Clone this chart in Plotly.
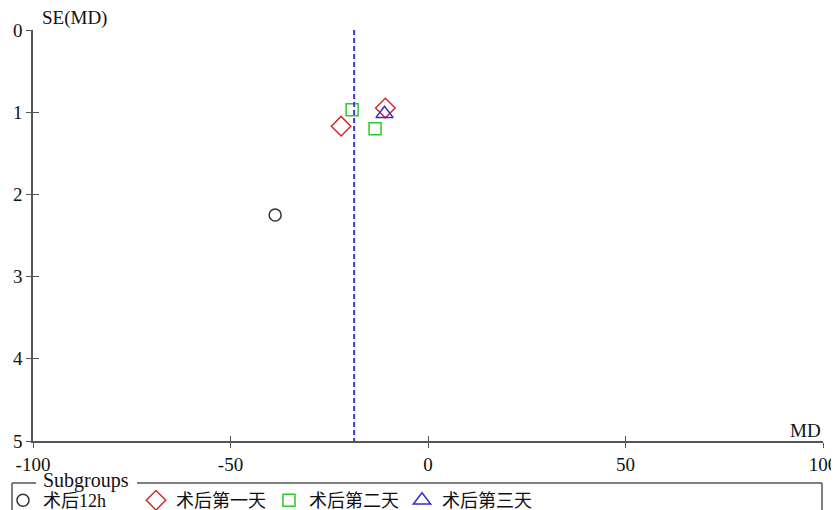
import plotly.graph_objects as go

# ---- data ----
groups = ["术后12h", "术后第一天", "术后第二天", "术后第三天"]
md_12h = [-38.7]
se_12h = [2.25]
md_d1 = [-22.0, -10.8]
se_d1 = [1.17, 0.95]
md_d2 = [-19.2, -13.4]
se_d2 = [0.97, 1.20]
md_d3 = [-11.0]
se_d3 = [1.02]
pooled_md = -18.7
x_ticks = [-100, -50, 0, 50, 100]
x_tick_labels = ["-100", "-50", "0", "50", "100"]
y_ticks = [0, 1, 2, 3, 4, 5]
y_tick_labels = ["0", "1", "2", "3", "4", "5"]

FONT = "Liberation Serif, Times New Roman, Noto Sans CJK SC, serif"
AX = "#555555"
TXT = "#111111"

series = [
    (groups[0], md_12h, se_12h, "circle-open", "#333333", 12),
    (groups[1], md_d1, se_d1, "diamond-open", "#d42a2a", 15),
    (groups[2], md_d2, se_d2, "square-open", "#2ec82e", 12),
    (groups[3], md_d3, se_d3, "triangle-up-open", "#3030c8", 15),
]

fig = go.Figure()
for name, xs, ys, sym, col, sz in series:
    fig.add_trace(go.Scatter(
        x=xs, y=ys, mode="markers", name=name,
        marker=dict(symbol=sym, size=sz, color=col, line=dict(color=col, width=1.5)),
        cliponaxis=False,
    ))

# invisible trace for an overlay axis pair carrying the inner half of the ticks
fig.add_trace(go.Scatter(x=[None], y=[None], xaxis="x2", yaxis="y2", showlegend=False, hoverinfo="skip"))

fig.add_shape(type="line", xref="x", yref="y", x0=pooled_md, x1=pooled_md, y0=0, y1=5,
              line=dict(color="#3a3ae0", width=2, dash="5px,3px"))

# plot area is 790 x 411 px; paper fractions below are relative to it
PW, PH = 790, 411


def px(x):
    return (x - 33) / PW


def py(y):
    return (441 - y) / PH


# legend frame (open at the top where the "Subgroups" caption sits)
frame = dict(type="line", xref="paper", yref="paper", line=dict(color=AX, width=1.5))
fig.add_shape(x0=px(12), x1=px(12), y0=py(483), y1=py(530), **frame)
fig.add_shape(x0=px(822), x1=px(822), y0=py(483), y1=py(530), **frame)
fig.add_shape(x0=px(12), x1=px(36), y0=py(483), y1=py(483), **frame)
fig.add_shape(x0=px(137), x1=px(822), y0=py(483), y1=py(483), **frame)
fig.add_annotation(text="Subgroups", xref="paper", yref="paper", x=px(41), y=py(480),
                   xanchor="left", yanchor="middle", showarrow=False,
                   font=dict(family=FONT, size=20, color=TXT))

fig.add_annotation(text="SE(MD)", xref="paper", yref="paper", x=px(40), y=py(18),
                   xanchor="left", yanchor="middle", showarrow=False,
                   font=dict(family=FONT, size=19, color=TXT))
fig.add_annotation(text="MD", xref="paper", yref="paper", x=1.0, y=py(430),
                   xanchor="right", yanchor="middle", showarrow=False,
                   font=dict(family=FONT, size=19, color=TXT))

axis_common = dict(showgrid=False, zeroline=False, showline=True, linecolor=AX, linewidth=1.5,
                   tickcolor=AX, tickwidth=1.2, automargin=False,
                   tickfont=dict(family=FONT, size=19, color=TXT))

# page body adds an 8px offset, so the figure is 8px smaller than the window
fig.update_layout(
    width=831, height=502,
    margin=dict(l=25, r=16, t=22, b=69, autoexpand=False),
    paper_bgcolor="white", plot_bgcolor="white",
    font=dict(family=FONT, size=18, color=TXT),
    xaxis=dict(range=[-100, 100], tickvals=x_ticks, ticktext=x_tick_labels, ticks="outside", ticklen=5,
               **axis_common),
    yaxis=dict(range=[5, 0], tickvals=y_ticks, ticktext=y_tick_labels, ticks="outside", ticklen=5,
               **axis_common),
    xaxis2=dict(range=[-100, 100], tickvals=x_ticks, ticks="inside", ticklen=5, overlaying="x",
                showticklabels=False, showgrid=False, zeroline=False, showline=False,
                tickcolor=AX, tickwidth=1.2, anchor="y2", automargin=False),
    yaxis2=dict(range=[5, 0], tickvals=y_ticks, ticks="inside", ticklen=6, overlaying="y",
                showticklabels=False, showgrid=False, zeroline=False, showline=False,
                tickcolor=AX, tickwidth=1.2, anchor="x2", automargin=False),
    showlegend=True,
    legend=dict(orientation="h", x=px(3), xanchor="left", y=py(482), yanchor="top",
                font=dict(family=FONT, size=18, color=TXT), bgcolor="rgba(0,0,0,0)",
                entrywidth=88, itemclick=False),
)

fig.write_html("out.html")
